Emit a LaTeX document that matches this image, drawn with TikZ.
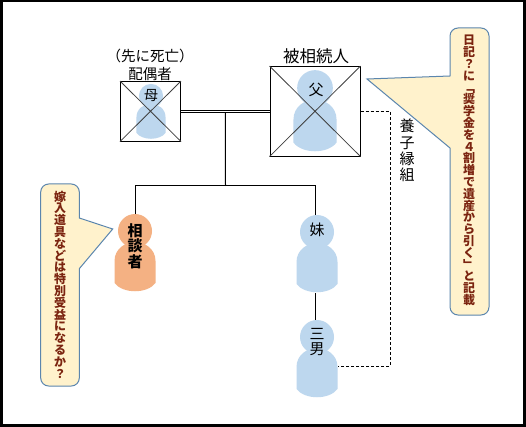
\documentclass[tikz,border=0pt]{standalone}
\usepackage{fontspec}
\setmainfont{Noto Sans CJK JP}
\usetikzlibrary{calc}
\definecolor{fmBlue}{HTML}{BDD7EE}
\definecolor{fmOrange}{HTML}{F4B183}
\definecolor{fmNote}{HTML}{FFF2CC}
\definecolor{fmEdge}{HTML}{5B86AE}
\definecolor{fmNoteText}{HTML}{7B2410}
\definecolor{fmCross}{HTML}{404040}
\tikzset{
	person/.pic={
		\path[fill=#1] (-20.5,52) -- (-20.5,30) .. controls (-20.5,18) and (-10,11) .. (0,11)
			.. controls (10,11) and (20.5,18) .. (20.5,30) -- (20.5,52)
			.. controls (12,63) and (-12,63) .. (-20.5,52) -- cycle;
		\node[fill=#1, circle, inner sep=0pt, minimum size=34pt, transform shape] (-head) at (0,0) {};
		\node[inner sep=0pt, minimum width=41pt, minimum height=50pt, transform shape] (-body) at (0,36) {};
	},
	familybox/.style={draw=black, line width=1pt, inner sep=0pt},
	familyline/.style={draw=black, line width=1pt},
	nametext/.style={inner sep=0pt, align=center, text=black},
	notebody/.style={draw=fmEdge, fill=fmNote, line width=1pt},
	notetext/.style={inner sep=0pt, align=center, text=fmNoteText,
		font=\fontsize{12}{11.8}\selectfont\bfseries}
}
\begin{document}
\begin{tikzpicture}[x=1pt, y=-1pt]
	\useasboundingbox (0,0) rectangle (526,427);
	\fill[black] (0,0) rectangle (526,427);
	\fill[white] (3,2) rectangle (522.7,423.7);
	% people
	\pic[scale=0.71] (mother) at (151,96) {person=fmBlue};
	\pic[scale=1.05] (father) at (315,88) {person=fmBlue};
	\pic (client) at (135,231) {person=fmOrange};
	\pic (sister) at (317,232) {person=fmBlue};
	\pic (third) at (317,337) {person=fmBlue};
	% crossed boxes
	\node[familybox, minimum width=60pt, minimum height=59.5pt] (mom) at (150.5,111.3) {};
	\node[familybox, minimum width=90pt, minimum height=89.5pt] (dad) at (315,111.3) {};
	\draw[fmCross, line width=0.8pt] (mom.north west) -- (mom.south east) (mom.north east) -- (mom.south west);
	\draw[fmCross, line width=0.8pt] (dad.north west) -- (dad.south east) (dad.north east) -- (dad.south west);
	% family lines
	\coordinate (couple) at ($(mom.east)!0.5!(dad.west)$);
	\coordinate (childbar) at (225.5,186);
	\coordinate (clienttop) at (135.3,186);
	\coordinate (sistertop) at (315.5,186);
	\coordinate (adoptbend) at (390,366);
	\draw[familyline] (couple) -- (childbar);
	\draw[familyline, double, double distance=1.2pt, line width=0.8pt] (mom.east) -- (dad.west);
	\draw[familyline] (clienttop |- client-head.north) -- (clienttop) -- (sistertop) -- (sistertop |- sister-head.north);
	\draw[familyline] (sistertop |- sister-body.south) -- (sistertop |- third-head.north);
	\draw[familyline, dash pattern=on 3pt off 2pt] (dad.east) -| (adoptbend) -- (adoptbend -| third-body.east);
	% names
	\node[nametext, font=\fontsize{14}{14}\selectfont] (mothername) at (151,96) {母};
	\node[nametext, font=\fontsize{15}{15}\selectfont] (fathername) at (316,90) {父};
	\node[nametext, font=\fontsize{15}{15.5}\selectfont\bfseries] (clientname) at (135,246) {相\\談\\者};
	\node[nametext, font=\fontsize{15}{15}\selectfont] (sistername) at (317,230) {妹};
	\node[nametext, font=\fontsize{15}{15}\selectfont] (thirdname) at (317,342.5) {三\\男};
	\node[nametext, font=\fontsize{14.5}{18}\selectfont] (spouselabel) at (150,65) {（先に死亡）\\配偶者};
	\node[nametext, font=\fontsize{16.5}{16.5}\selectfont] (deceasedlabel) at (316,56.5) {被相続人};
	\node[nametext, font=\fontsize{15}{16.3}\selectfont] (adoptlabel) at (407,150.5) {養\\子\\縁\\組};
	% callouts
	\draw[notebody] (450,76) -- (367,79) -- (450,148) [rounded corners=8pt] -- (450,315) -- (489,315)
		-- (489,28) -- (450,28) [sharp corners] -- (450,76) -- cycle;
	\node[notetext] (diarynote) at (469,170.5) {日\\記\\？\\に\\﹁\\奨\\学\\金\\を\\４\\割\\増\\で\\遺\\産\\か\\ら\\引\\く\\﹂\\と\\記\\載};
	\draw[notebody] (79.3,218) -- (112.7,229) -- (79.3,268.7) [rounded corners=8pt] -- (79.3,386) -- (40.7,386)
		-- (40.7,184) -- (79.3,184) [sharp corners] -- (79.3,218) -- cycle;
	\node[notetext] (dowrynote) at (60,284.5) {嫁\\入\\道\\具\\な\\ど\\は\\特\\別\\受\\益\\に\\な\\る\\か\\？};
\end{tikzpicture}
\end{document}
